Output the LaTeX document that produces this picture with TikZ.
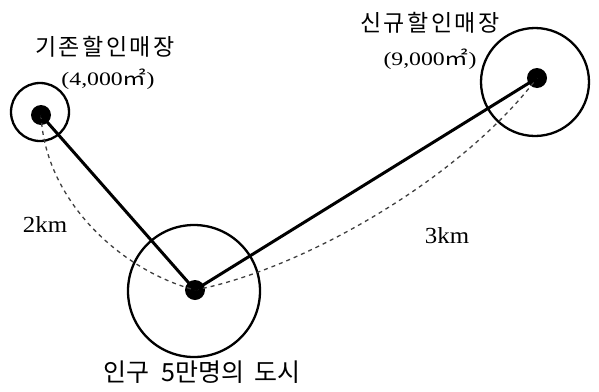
\documentclass[tikz,border=0pt]{standalone}
\usepackage{fontspec}
\setmainfont{Liberation Serif}
\newfontfamily\kr{Noto Sans CJK KR}
\newcommand{\ks}{\kern2.5pt}
\begin{document}
\begin{tikzpicture}[x=1pt,y=-1pt,
  dot/.style={circle,fill=black,inner sep=0pt,minimum size=20pt},
  ring/.style={circle,draw=black,line width=2.3pt,inner sep=0pt},
  road/.style={line width=3pt,black},
  arc/.style={line width=1.3pt,black!75,dash pattern=on 4pt off 4pt},
  krlabel/.style={inner sep=0pt,font=\fontsize{23}{25}\kr},
  arealabel/.style={inner sep=0pt,xscale=1.25,font=\fontsize{19}{21}\selectfont},
  kmlabel/.style={inner sep=0pt,xscale=1.08,font=\fontsize{23}{25}\selectfont}]
\useasboundingbox (0,0) rectangle (599,391);
\fill[white] (0,0) rectangle (599,391);
% rings
\node[ring,minimum size=58pt] (rA) at (40,112) {};
\node[ring,minimum size=132pt] (rC) at (194,291) {};
\node[ring,minimum size=108pt] (rB) at (535,82) {};
% dots
\node[dot] (dA) at (41,115) {};
\node[dot] (dC) at (195,290) {};
\node[dot] (dB) at (537,78) {};
% dashed arcs
\draw[arc] (dA.center) .. controls (45,200) and (120,270) .. (dC.center);
\draw[arc] (dC.center) .. controls (300,270) and (460,180) .. (dB.center);
% roads
\draw[road] (dA.center) -- (dC.center);
\draw[road] (dC.center) -- (dB.center);
% labels
\node[krlabel] (tA) at (105,47) {기\ks 존\ks 할\ks 인\ks 매\ks 장};
\node[arealabel] (aA) at (108,79) {(4,000{\kr ㎡})};
\node[krlabel] (tB) at (430,23) {신\ks 규\ks 할\ks 인\ks 매\ks 장};
\node[arealabel] (aB) at (430,59) {(9,000{\kr ㎡})};
\node[kmlabel] (k2) at (45,225) {2km};
\node[kmlabel] (k3) at (447,236) {3km};
\node[inner sep=0pt,font=\fontsize{25}{27}\kr] (city) at (202,372) {인구\hspace{12pt}5만명의\hspace{10pt}도시};
\end{tikzpicture}
\end{document}
